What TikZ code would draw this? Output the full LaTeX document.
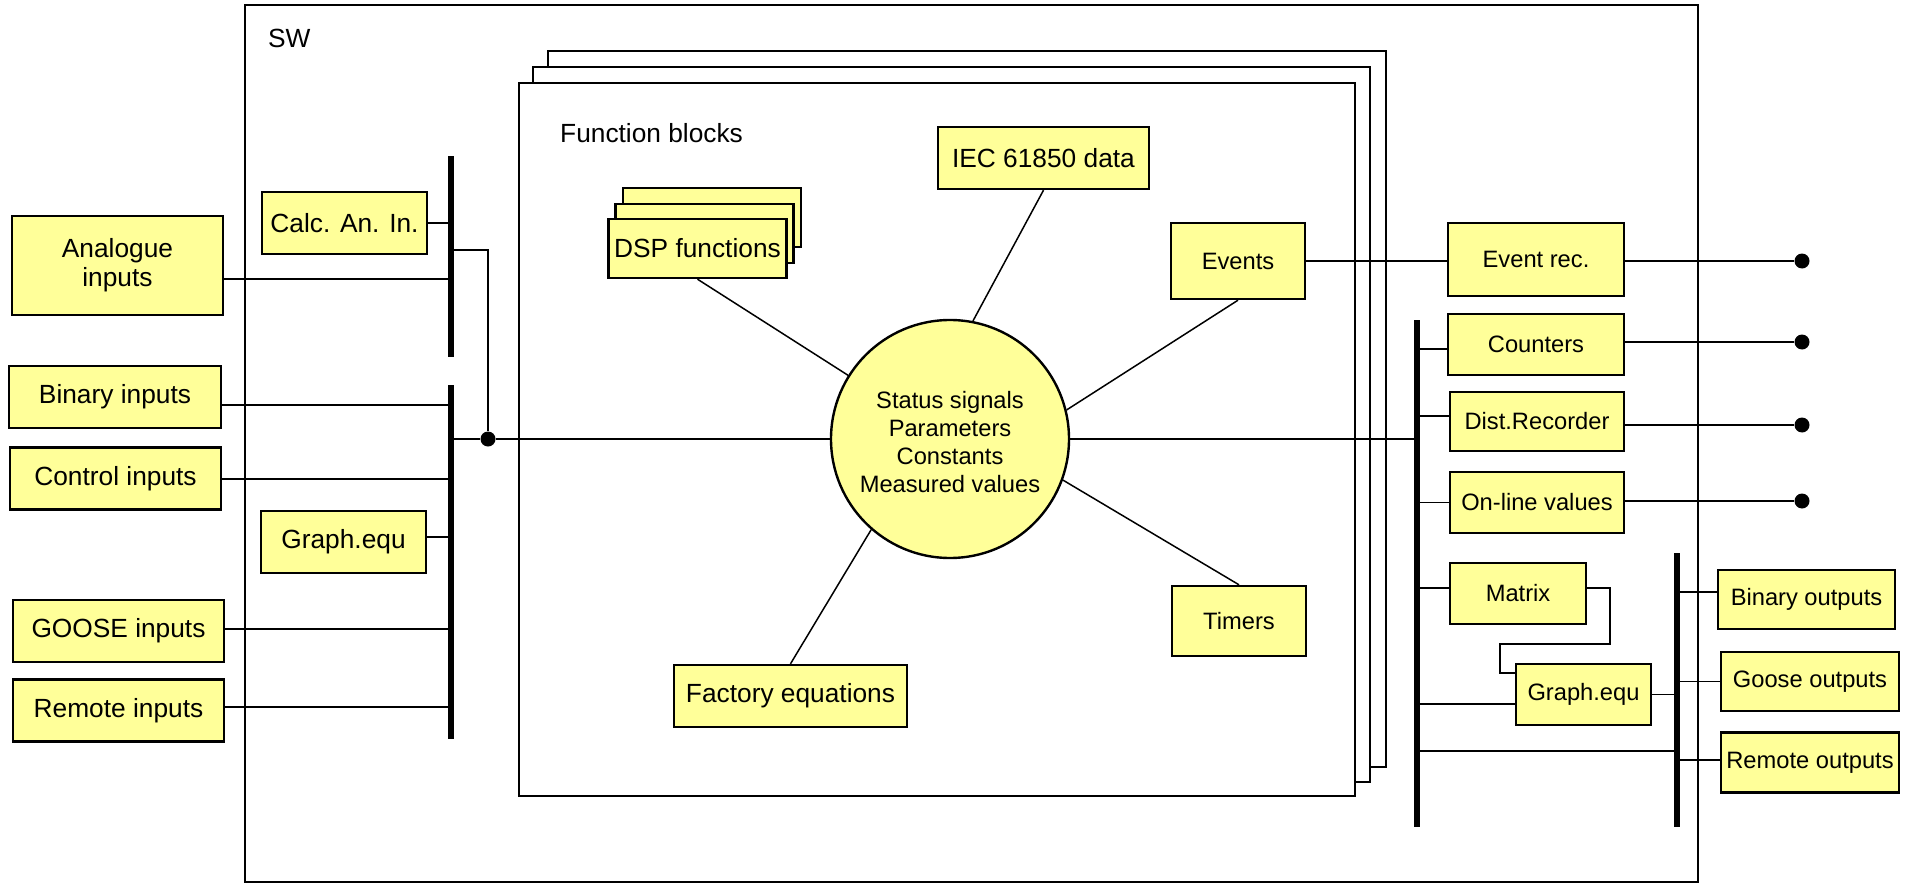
\documentclass[tikz,border=0pt]{standalone}
\usepackage{fontspec}
\setmainfont{Liberation Sans}
\usepackage{tikz}
\usetikzlibrary{positioning}
\definecolor{boxYellow}{HTML}{FFFF99}
\newcommand{\fbig}{\fontsize{26.3}{29}\selectfont}
\newcommand{\fsmall}{\fontsize{23.7}{27.7}\selectfont}

\begin{document}
\begin{tikzpicture}[
  x=1pt,y=-1pt,
  box/.style={draw,line width=2.4pt,fill=boxYellow,inner sep=0pt,align=center,font=\fbig},
  boxS/.style={box,font=\fsmall},
  core/.style={circle,draw,line width=2.4pt,fill=boxYellow,inner sep=0pt,minimum size=238pt,font=\fsmall},
  frame/.style={draw,line width=1.8pt,fill=white},
  bus/.style={fill=black,inner sep=0pt,minimum width=5.5pt},
  wire/.style={line width=1.5pt},
  dot/.style={circle,fill=black,inner sep=0pt,minimum size=15pt},
  lbl/.style={anchor=west,inner sep=0pt,font=\fbig}
]
\useasboundingbox (0,0) rectangle (1912,883);
\draw[frame] (245,5) rectangle (1698,882);
\node[lbl] (sw) at (268,38) {SW};
\draw[frame] (548,51) rectangle (1386,767);
\draw[frame] (533,67) rectangle (1370,782);
\draw[frame] (519,83) rectangle (1355,796);
\node[lbl] (fbTitle) at (560,133) {Function blocks};

\node[box,minimum width=211pt,minimum height=99pt] (ain) at (117.5,265.5) {Analogue\\inputs};
\node[box,minimum width=212pt,minimum height=62pt] (binin) at (115,397) {Binary inputs};
\node[box,minimum width=211pt,minimum height=62pt,below=17pt of binin.south east,anchor=north east] (ctlin) {Control inputs};
\node[box,minimum width=211pt,minimum height=62pt] (goosein) at (118.5,631) {GOOSE inputs};
\node[box,minimum width=211pt,minimum height=62pt,below=15pt of goosein] (remin) {Remote inputs};
\node[box,minimum width=165pt,minimum height=62pt] (calc) at (344.5,223) {Calc. An. In.};
\node[box,minimum width=165pt,minimum height=62pt] (geqL) at (343.5,542) {Graph.equ};
\node[bus,minimum height=201pt] (busA) at (451,256.5) {};
\node[bus,minimum height=354pt] (busB) at (451,562) {};
\node[dot] (join) at (488,439) {};

\node[core] (core) at (950,439) {\raisebox{-6pt}[\height][\depth]{\begin{tabular}{@{}c@{}}Status signals\\Parameters\\Constants\\Measured values\end{tabular}}};
\node[box,minimum width=178pt,minimum height=59pt] (dspBack) at (712,217.5) {};
\node[box,minimum width=178pt,minimum height=59pt] (dspMid) at (704.5,233.5) {};
\node[box,minimum width=178pt,minimum height=59pt] (dsp) at (697.5,248.5) {DSP functions};
\node[box,minimum width=211pt,minimum height=62pt] (iec) at (1043.5,158) {IEC 61850 data};
\node[boxS,minimum width=134pt,minimum height=76pt] (events) at (1238,261) {Events};
\node[boxS,minimum width=134pt,minimum height=70pt] (timers) at (1239,621) {Timers};
\node[box,minimum width=233pt,minimum height=62pt] (factory) at (790.5,696) {Factory equations};

\node[bus,minimum height=507pt] (busC) at (1417,573.5) {};
\node[bus,minimum height=274pt] (busD) at (1677,690) {};
\node[boxS,minimum width=176pt,minimum height=73pt] (eventrec) at (1536,259.5) {Event rec.};
\node[boxS,minimum width=176pt,minimum height=61pt] (counters) at (1536,344.5) {Counters};
\node[boxS,minimum width=174pt,minimum height=59pt] (distrec) at (1537,421.5) {Dist.Recorder};
\node[boxS,minimum width=174pt,minimum height=61pt] (online) at (1537,502.5) {On-line values};
\node[boxS,minimum width=136pt,minimum height=61pt] (matrix) at (1518,593.5) {Matrix};
\node[boxS,minimum width=135pt,minimum height=61pt] (geqR) at (1583.5,694.5) {Graph.equ};
\node[boxS,minimum width=177pt,minimum height=59pt] (binout) at (1806.5,599.5) {Binary outputs};
\node[boxS,minimum width=178pt,minimum height=59pt] (gooseout) at (1810,681.5) {Goose outputs};
\node[boxS,minimum width=178pt,minimum height=60pt,below=19pt of gooseout] (remout) {Remote outputs};
\node[dot] (tapEv) at (1802,261) {};
\node[dot] (tapCnt) at (1802,342) {};
\node[dot] (tapDist) at (1802,425) {};
\node[dot] (tapOnl) at (1802,501) {};

\draw[wire] (calc) -- (calc -| busA);
\draw[wire] (ain.east |- 0,279) -- (busA |- 0,279);
\draw[wire] (busA |- 0,250) -| (join);
\draw[wire] (binin.east |- 0,405) -- (busB |- 0,405);
\draw[wire] (ctlin.east |- 0,479) -- (busB |- 0,479);
\draw[wire] (geqL.east |- 0,537) -- (busB |- 0,537);
\draw[wire] (goosein.east |- 0,629) -- (busB |- 0,629);
\draw[wire] (remin.east |- 0,707) -- (busB |- 0,707);
\draw[wire] (busB |- join) -- (join) -- (core.west);
\draw[wire] (dsp.south) -- (core.148);
\draw[wire] (iec.south) -- (core.79);
\draw[wire] (events.south) -- (core.14);
\draw[wire] (timers.north) -- (core.-20);
\draw[wire] (factory.north) -- (core.229);
\draw[wire] (core.east) -- (core -| busC);
\draw[wire] (events.east) -- (events.east -| eventrec.west);
\draw[wire] (busC |- 0,349) -- (counters.west |- 0,349);
\draw[wire] (busC |- 0,416) -- (distrec.west |- 0,416);
\draw[wire] (busC |- online) -- (online.west);
\draw[wire] (busC |- 0,588) -- (matrix.west |- 0,588);
\draw[wire] (busC |- 0,704) -- (geqR.west |- 0,704);
\draw[wire] (matrix.east |- 0,588) -| (1610,644) -| (1500,673) -- (geqR.west |- 0,673);
\draw[wire] (geqR.east) -- (geqR.east -| busD);
\draw[wire] (busC |- 0,751) -- (busD |- 0,751);
\draw[wire] (busD |- 0,592) -- (binout.west |- 0,592);
\draw[wire] (busD |- gooseout) -- (gooseout.west);
\draw[wire] (busD |- 0,760) -- (remout.west |- 0,760);
\draw[wire] (eventrec.east |- tapEv) -- (tapEv);
\draw[wire] (counters.east |- tapCnt) -- (tapCnt);
\draw[wire] (distrec.east |- tapDist) -- (tapDist);
\draw[wire] (online.east |- tapOnl) -- (tapOnl);
\end{tikzpicture}
\end{document}
